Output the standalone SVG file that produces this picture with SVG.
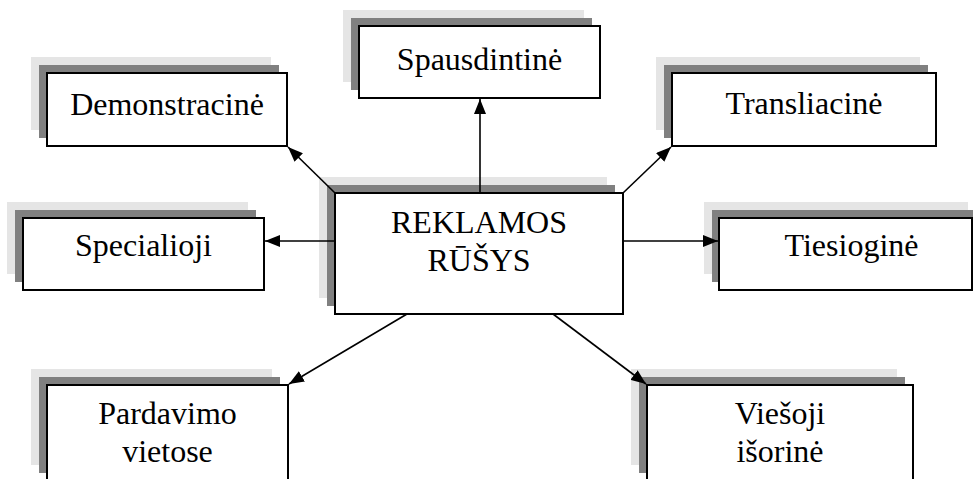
<svg xmlns="http://www.w3.org/2000/svg" width="973" height="479" viewBox="0 0 973 479">
<style>
.l{fill:#e5e5e5}
.d{fill:#808080}
.b{fill:#fff;stroke:#000;stroke-width:2}
.t{font-family:'Liberation Serif','Times New Roman','DejaVu Serif',serif;font-size:32px;fill:#000;text-anchor:middle}
.c{stroke:#000;stroke-width:1.6;fill:none;marker-end:url(#ah)}
</style>
<defs>
<marker id="ah" viewBox="0 0 15 12" refX="15" refY="6" markerWidth="15" markerHeight="12" markerUnits="userSpaceOnUse" orient="auto">
<path d="M0,0 L15,6 L0,12 Z" fill="#000"/>
</marker>
</defs>
<rect width="973" height="479" fill="#fff"/>
<g id="center">
<rect class="l" x="319" y="177" width="288" height="121"/>
<rect class="d" x="327" y="185" width="288" height="121"/>
<rect class="b" x="335" y="193" width="288" height="121"/>
<text class="t" x="479" y="233">REKLAMOS</text>
<text class="t" x="479" y="271">RŪŠYS</text>
</g>
<g id="spausdintine">
<rect class="l" x="343" y="10" width="241" height="72"/>
<rect class="d" x="351" y="18" width="241" height="72"/>
<rect class="b" x="359" y="26" width="241" height="72"/>
<text class="t" x="479.5" y="70">Spausdintinė</text>
</g>
<g id="demonstracine">
<rect class="l" x="31" y="57" width="240" height="73"/>
<rect class="d" x="39" y="65" width="240" height="73"/>
<rect class="b" x="47" y="73" width="240" height="73"/>
<text class="t" x="167" y="115">Demonstracinė</text>
</g>
<g id="transliacine">
<rect class="l" x="656" y="57" width="264" height="73"/>
<rect class="d" x="664" y="65" width="264" height="73"/>
<rect class="b" x="672" y="73" width="264" height="73"/>
<text class="t" x="804" y="114">Transliacinė</text>
</g>
<g id="specialioji">
<rect class="l" x="7" y="202" width="241" height="72"/>
<rect class="d" x="15" y="210" width="241" height="72"/>
<rect class="b" x="23" y="218" width="241" height="72"/>
<text class="t" x="143.5" y="256">Specialioji</text>
</g>
<g id="tiesiogine">
<rect class="l" x="704" y="202" width="264" height="72"/>
<rect class="d" x="712" y="210" width="264" height="72"/>
<rect class="b" x="719" y="218" width="253" height="72"/>
<text class="t" x="851.5" y="256">Tiesioginė</text>
</g>
<g id="pardavimo">
<rect class="l" x="31" y="369" width="241" height="96"/>
<rect class="d" x="39" y="377" width="241" height="96"/>
<rect class="b" x="47" y="385" width="241" height="100"/>
<text class="t" x="167.5" y="424">Pardavimo</text>
<text class="t" x="167.5" y="462">vietose</text>
</g>
<g id="viesoji">
<rect class="l" x="631" y="369" width="266" height="96"/>
<rect class="d" x="639" y="377" width="266" height="96"/>
<rect class="b" x="647" y="385" width="266" height="100"/>
<text class="t" x="780" y="424">Viešoji</text>
<text class="t" x="780" y="462">išorinė</text>
</g>
<g id="connectors">
<line class="c" x1="480" y1="193" x2="480" y2="99"/>
<line class="c" x1="335" y1="193" x2="288" y2="147"/>
<line class="c" x1="623" y1="193" x2="671" y2="147"/>
<line class="c" x1="335" y1="241" x2="265" y2="241"/>
<line class="c" x1="623" y1="241" x2="718" y2="241"/>
<line class="c" x1="407" y1="314" x2="289" y2="384"/>
<line class="c" x1="553" y1="314" x2="646" y2="384"/>
</g>
</svg>
